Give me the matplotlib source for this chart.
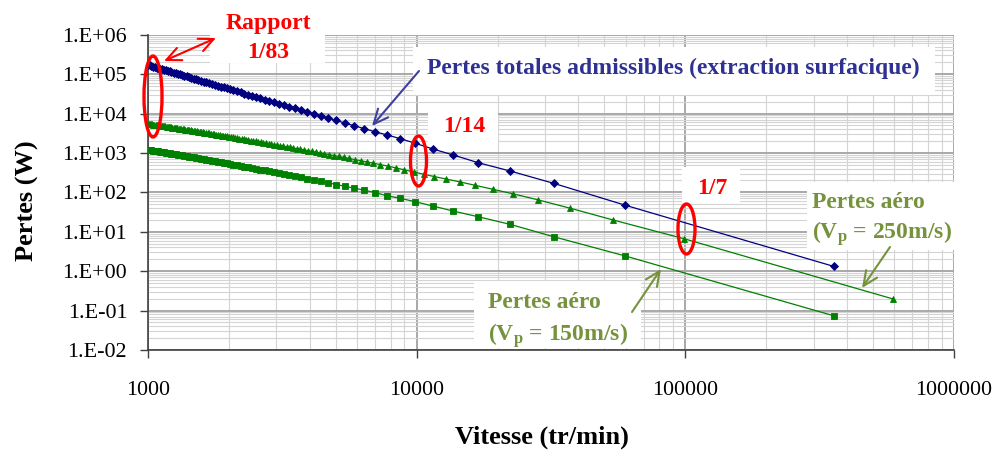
import math
import matplotlib
matplotlib.use("Agg")
import matplotlib.pyplot as plt
from matplotlib.patches import Ellipse, Rectangle, FancyArrowPatch
from matplotlib.ticker import LogLocator, FuncFormatter, FixedLocator, NullFormatter

plt.rcParams['font.family'] = ['Liberation Serif', 'DejaVu Serif']
plt.rcParams['mathtext.fontset'] = 'custom'
plt.rcParams['mathtext.rm'] = 'Liberation Serif:bold'
plt.rcParams['mathtext.it'] = 'Liberation Serif:bold'

# speeds (tr/min) shared by the total-loss curve and the 150 m/s curve
vitesse = [1000, 1014, 1029, 1044, 1060, 1076, 1092, 1109, 1127, 1145,
           1163, 1183, 1203, 1223, 1245, 1267, 1290, 1314, 1339, 1364,
           1391, 1419, 1447, 1477, 1509, 1541, 1576, 1611, 1649, 1688,
           1729, 1772, 1817, 1865, 1915, 1970, 2020, 2080, 2150, 2210,
           2280, 2360, 2440, 2530, 2620, 2720, 2830, 2940, 3070, 3210,
           3360, 3530, 3710, 3920, 4140, 4400, 4690, 5020, 5400, 5850,
           6370, 7000, 7748, 8693, 9900, 11500, 13700, 16960, 22300, 32400,
           59400, 357000]

pertes_admissibles = [170200, 165500, 160600, 156000, 151200, 146700, 142400, 138000, 133600, 129300,
                      125300, 121000, 117000, 113100, 109100, 105300, 101600, 97900, 94200, 90700,
                      87200, 83800, 80500, 77300, 74000, 70900, 67800, 64800, 61800, 59000,
                      56200, 53500, 50900, 48300, 45800, 43200, 41100, 38800, 36300, 34300,
                      32200, 30100, 28100, 26200, 24400, 22600, 20900, 19350, 17750, 16230,
                      14820, 13420, 12160, 10890, 9770, 8650, 7620, 6660, 5760, 4910,
                      4150, 3440, 2870, 2300, 1754, 1257, 885, 564, 347, 169,
                      47.7, 1.32]

pertes_aero_150 = [1205, 1186, 1167, 1148, 1128, 1109, 1091, 1071, 1052, 1033,
                   1015, 995, 976, 957, 938, 919, 900, 880, 861, 843,
                   824, 804, 786, 767, 748, 729, 710, 691, 672, 653,
                   635, 616, 597, 579, 560, 541, 524, 506, 485, 469,
                   451, 431, 413, 395, 378, 360, 342, 325, 307, 290,
                   273, 256, 239, 222, 206, 190, 174, 158, 143, 128,
                   113.4, 99.0, 82, 70.5, 57.7, 44.9, 33.5, 24.0, 15.4, 7.46,
                   2.46, 0.0738]

vitesse_250 = [1004, 1012, 1021, 1030, 1039, 1048, 1057, 1067, 1077, 1087,
               1097, 1107, 1117, 1128, 1139, 1150, 1161, 1172, 1184, 1196,
               1208, 1221, 1233, 1246, 1260, 1273, 1287, 1301, 1316, 1330,
               1345, 1361, 1377, 1393, 1409, 1426, 1444, 1461, 1480, 1498,
               1517, 1537, 1557, 1578, 1599, 1621, 1644, 1667, 1690, 1715,
               1740, 1766, 1793, 1820, 1848, 1878, 1908, 1939, 1971, 2005,
               2039, 2075, 2112, 2150, 2190, 2231, 2274, 2318, 2364, 2412,
               2462, 2515, 2569, 2626, 2685, 2748, 2813, 2881, 2953, 3028,
               3107, 3191, 3279, 3373, 3471, 3576, 3687, 3805, 3931, 4066,
               4210, 4365, 4532, 4712, 4907, 5119, 5350, 5602, 5880, 6187,
               6527, 6907, 7334, 7818, 8366, 9000, 9738, 10610, 11650, 12910,
               14490, 16500, 19160, 22850, 28290, 37130, 54010, 99000, 595000]

pertes_aero_250 = [5472, 5427, 5377, 5328, 5280, 5233, 5186, 5135, 5085, 5036,
                   4987, 4940, 4893, 4842, 4793, 4744, 4697, 4650, 4600, 4550,
                   4502, 4451, 4404, 4355, 4303, 4255, 4205, 4157, 4105, 4058,
                   4009, 3958, 3908, 3859, 3811, 3761, 3710, 3662, 3611, 3563,
                   3513, 3463, 3413, 3363, 3314, 3264, 3213, 3163, 3115, 3064,
                   3014, 2964, 2914, 2865, 2816, 2764, 2715, 2665, 2616, 2565,
                   2516, 2465, 2416, 2366, 2316, 2266, 2216, 2167, 2118, 2068,
                   2019, 1968, 1919, 1870, 1821, 1771, 1722, 1673, 1624, 1575,
                   1526, 1478, 1429, 1380, 1332, 1284, 1236, 1188, 1141, 1093,
                   1046, 999, 952, 906, 860, 814, 769, 724, 679, 635,
                   591, 548, 505, 463, 417, 372, 330, 288, 251, 217,
                   184, 151, 120, 91.6, 64.6, 39.8, 19.8, 6.64, 0.196]

x_ticks = [1000, 10000, 100000, 1000000]
y_ticks = [1e-2, 1e-1, 1e0, 1e1, 1e2, 1e3, 1e4, 1e5, 1e6]

W, H = 994, 453
NAVY = '#000080'
GREEN = '#008000'
OLIVE = '#76923C'
RED = '#FF0000'


def fx(x):
    return x / W


def fy(y):
    return 1 - y / H


fig = plt.figure(figsize=(W / 100, H / 100), dpi=100)
ax = fig.add_axes([fx(148), fy(350), (954 - 148) / W, (350 - 34.7) / H])
ax.set_xscale('log')
ax.set_yscale('log')
ax.set_xlim(1e3, 1e6)
ax.set_ylim(1e-2, 1e6)

ax.plot(vitesse, pertes_admissibles, color=NAVY, lw=0.9, marker='D', ms=4.0,
        markeredgewidth=0.6, zorder=4)
ax.plot(vitesse_250, pertes_aero_250, color=GREEN, lw=0.9, marker='^', ms=5.0,
        markeredgewidth=0.6, zorder=3)
ax.plot(vitesse, pertes_aero_150, color=GREEN, lw=0.9, marker='s', ms=4.0,
        markeredgewidth=0.6, zorder=3)

ax.xaxis.set_major_locator(FixedLocator(x_ticks))
ax.xaxis.set_major_formatter(FuncFormatter(lambda v, p: '%d' % round(v)))
ax.yaxis.set_major_locator(FixedLocator(y_ticks))
ax.yaxis.set_major_formatter(FuncFormatter(lambda v, p: '1.E%+03d' % round(math.log10(v))))
ax.xaxis.set_minor_locator(LogLocator(base=10, subs=range(2, 10), numticks=20))
ax.yaxis.set_minor_locator(LogLocator(base=10, subs=range(2, 10), numticks=20))
ax.xaxis.set_minor_formatter(NullFormatter())
ax.yaxis.set_minor_formatter(NullFormatter())

ax.grid(which='major', color='#a8a8a8', lw=1.4)
ax.grid(which='minor', color='#d4d4d4', lw=0.8)
ax.set_axisbelow(True)

for s in ['top', 'right']:
    ax.spines[s].set_visible(False)
for s in ['left', 'bottom']:
    ax.spines[s].set_color('#404040')
    ax.spines[s].set_linewidth(1.2)

ax.tick_params(which='minor', length=0)
ax.tick_params(axis='y', which='major', length=6, width=1, color='#404040',
               pad=9, labelsize=15.8)
ax.tick_params(axis='x', which='major', length=6, width=1, color='#404040',
               pad=16, labelsize=15.8)

fig.text(fx(542), fy(437), 'Vitesse (tr/min)', fontsize=19, fontweight='bold',
         ha='center', va='center')
fig.text(fx(27), fy(201), 'Pertes (W)', fontsize=19, fontweight='bold',
         ha='center', va='center', rotation=90)

# white boxes behind the annotations
boxes = [(210, 0, 325, 63), (413, 47, 935, 95), (428, 113, 498, 145),
         (682, 167, 740, 203), (807, 182, 955, 250), (474, 281, 641, 348)]
for x0, y0, x1, y1 in boxes:
    fig.add_artist(Rectangle((fx(x0), fy(y1)), (x1 - x0) / W, (y1 - y0) / H,
                             transform=fig.transFigure, facecolor='white',
                             edgecolor='none', zorder=5))

txt = dict(fontweight='bold', ha='center', va='center', zorder=6)
fig.text(fx(268), fy(23), 'Rapport', color=RED, fontsize=17, **txt)
fig.text(fx(268), fy(52), '1/83', color=RED, fontsize=17, **txt)
fig.text(fx(464), fy(126), '1/14', color=RED, fontsize=17, **txt)
fig.text(fx(712), fy(188), '1/7', color=RED, fontsize=17, **txt)
fig.text(fx(673), fy(68), 'Pertes totales admissibles (extraction surfacique)',
         color='#2E3192', fontsize=17, **txt)

left = dict(fontweight='bold', ha='left', va='center', color=OLIVE,
            fontsize=17, zorder=6)
fig.text(fx(812), fy(202), 'Pertes aéro', **left)
fig.text(fx(812), fy(234), r'(V$_{\mathrm{p}}$ = 250m/s)', **left)
fig.text(fx(488), fy(303), 'Pertes aéro', **left)
fig.text(fx(488), fy(336), r'(V$_{\mathrm{p}}$ = 150m/s)', **left)

# red ellipses marking the ratios
for cx, cy, w, h in [(153, 96.5, 18, 81), (418.5, 161, 16, 50), (686.5, 229, 17, 50)]:
    fig.add_artist(Ellipse((fx(cx), fy(cy)), w / W, h / H, transform=fig.transFigure,
                           fill=False, edgecolor=RED, lw=2.4, zorder=7))

arrows = [((164, 61), (216, 38), RED, '<->'),
          ((419, 71), (372, 126), '#3F3FA0', '->'),
          ((890, 247), (862, 288), OLIVE, '->'),
          ((632, 312), (661, 269), OLIVE, '->')]
for a, b, col, style in arrows:
    fig.add_artist(FancyArrowPatch((fx(a[0]), fy(a[1])), (fx(b[0]), fy(b[1])),
                                   transform=fig.transFigure,
                                   arrowstyle=style + ',head_length=0.7,head_width=0.32',
                                   mutation_scale=15, color=col, lw=1.5,
                                   shrinkA=0, shrinkB=0, zorder=7))

fig.savefig('out.png', dpi=100)
